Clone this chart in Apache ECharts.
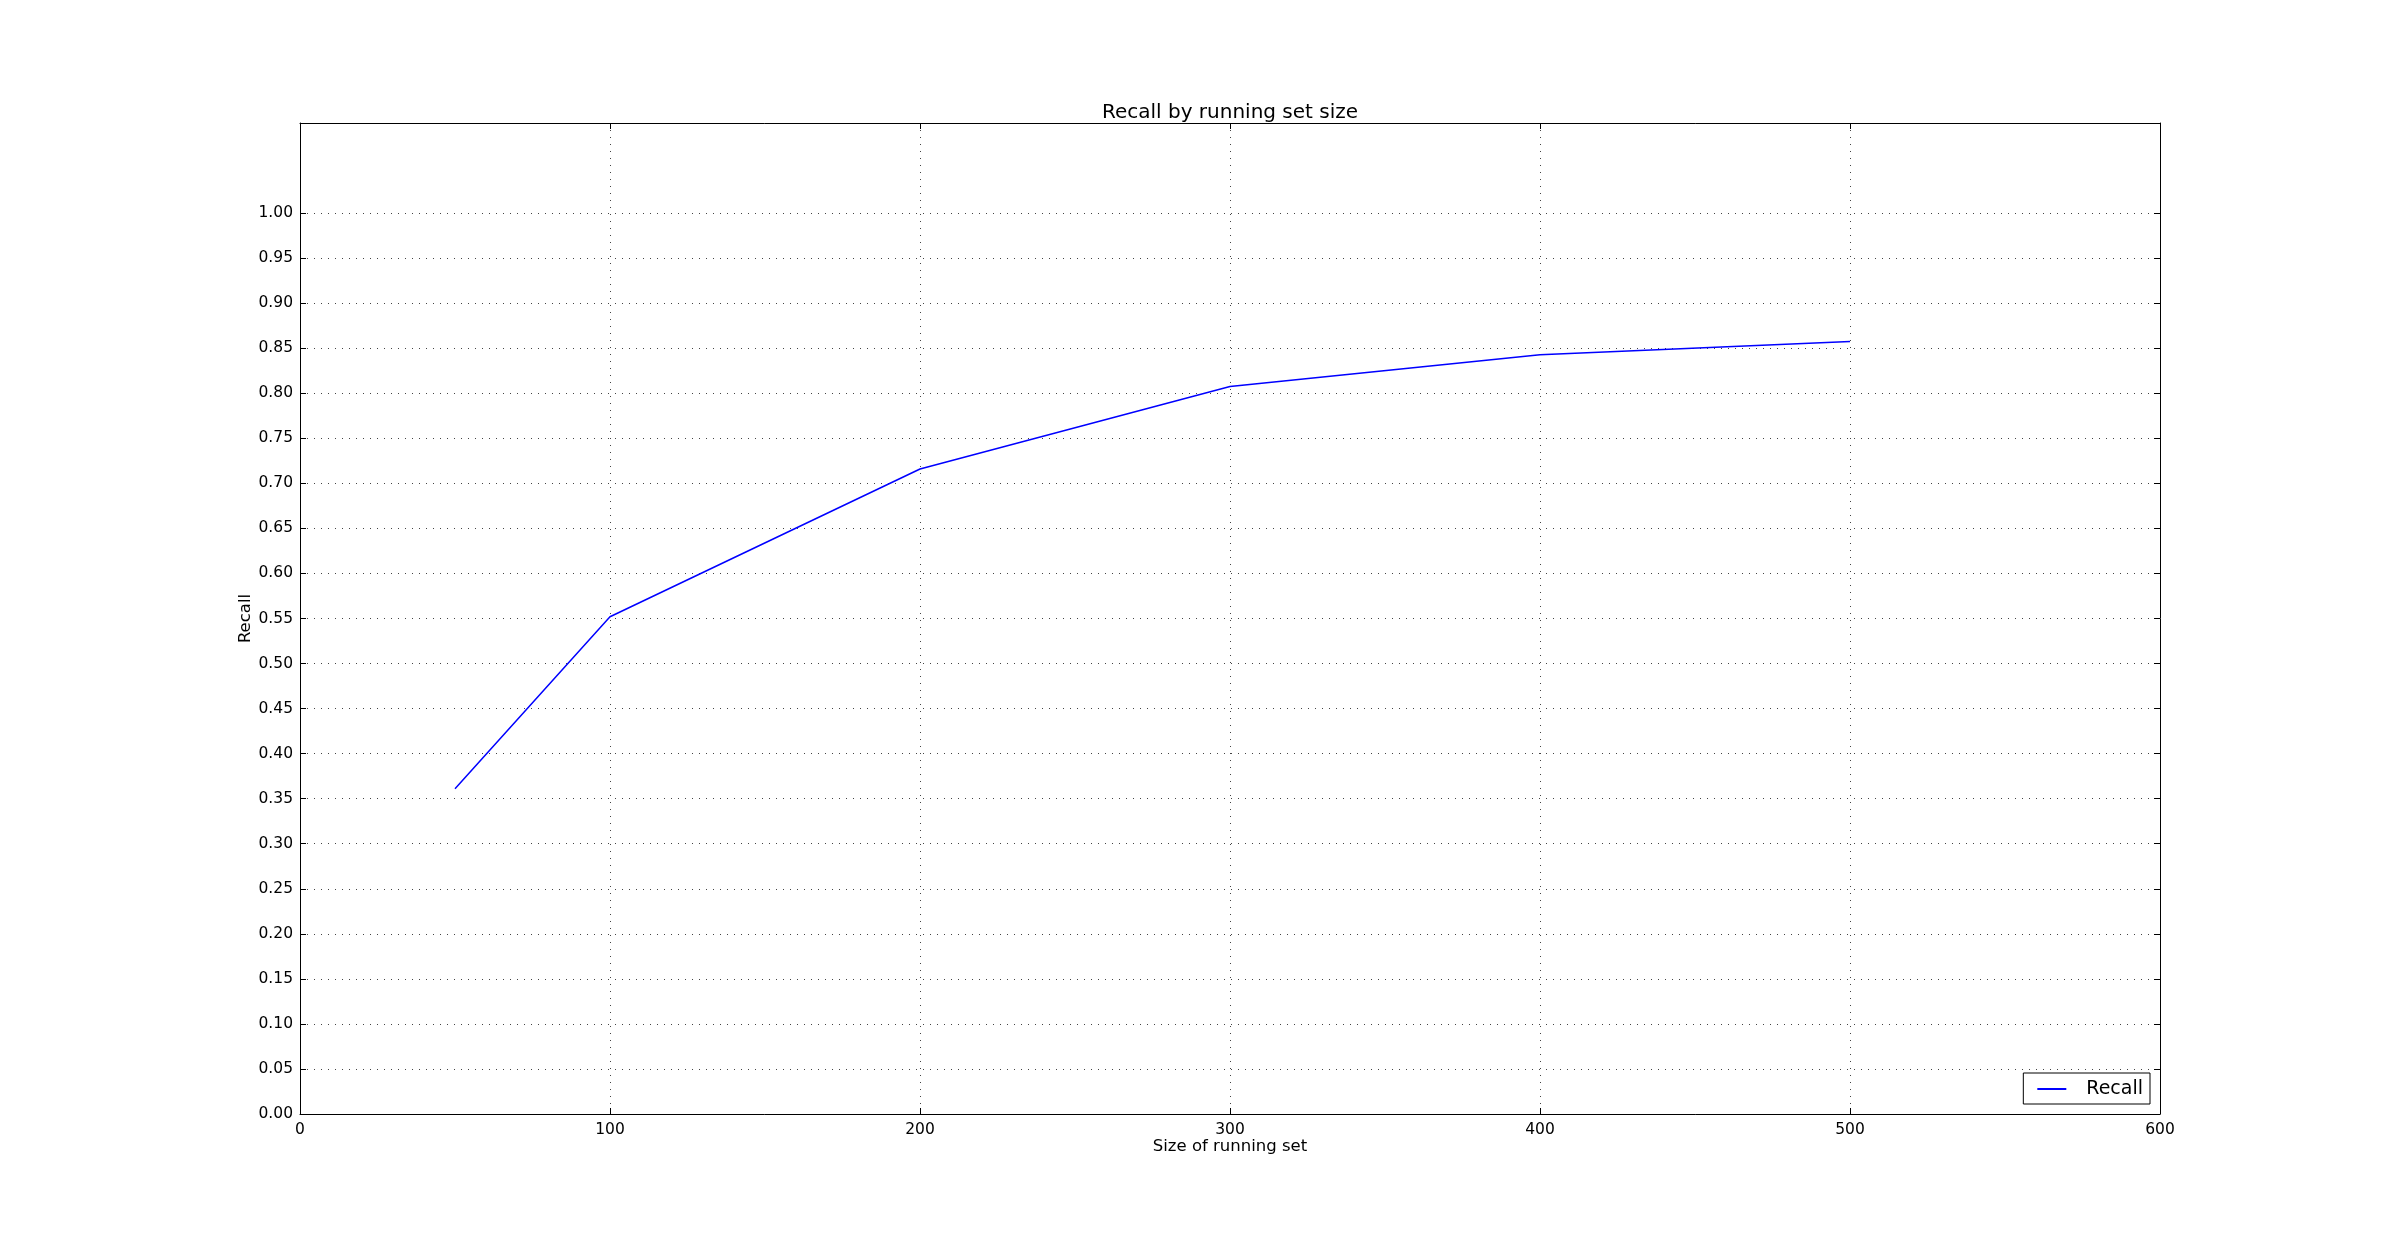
<!DOCTYPE html>
<html>
<head>
<meta charset="utf-8">
<script src="https://cdn.jsdelivr.net/npm/echarts@6/dist/echarts.min.js"></script>
<style>
html,body{margin:0;padding:0;background:#fff;}
#chart{width:2400px;height:1238px;}
</style>
</head>
<body>
<div id="chart"></div>
<script>
// Data
const runningSetSizes = [50, 100, 200, 300, 400, 500];
const recallValues = [0.361, 0.552, 0.716, 0.8075, 0.8427, 0.8575];
const xTickValues = [0, 100, 200, 300, 400, 500, 600];
const yTickValues = [0, 0.05, 0.10, 0.15, 0.20, 0.25, 0.30, 0.35, 0.40, 0.45, 0.50,
                     0.55, 0.60, 0.65, 0.70, 0.75, 0.80, 0.85, 0.90, 0.95, 1.00];
const titleText = 'Recall by running set size';
const xName = 'Size of running set';
const yName = 'Recall';
const seriesName = 'Recall';

const FONT = 'DejaVu Sans';
const gridLine = { show: true, lineStyle: { color: '#444', width: 1, type: [1, 6] } };
const tickStyle = { show: true, inside: true, length: 6, lineStyle: { color: '#000', width: 1 } };
const axisLine = { show: true, onZero: false, lineStyle: { color: '#000', width: 1 } };

const chart = echarts.init(document.getElementById('chart'));
chart.setOption({
  animation: false,
  backgroundColor: '#fff',
  title: {
    text: titleText,
    left: 1230,
    textAlign: 'center',
    top: 103,
    padding: 0,
    textStyle: { fontFamily: FONT, fontSize: 20, fontWeight: 'normal', color: '#000' }
  },
  legend: {
    data: [{ name: seriesName, icon: 'rect' }],
    right: 250,
    bottom: 134,
    orient: 'vertical',
    padding: [4, 7, 3, 14],
    borderColor: '#000',
    borderWidth: 1,
    borderRadius: 0,
    itemWidth: 29,
    itemHeight: 2,
    itemStyle: { color: '#0000ff' },
    textStyle: { fontFamily: FONT, fontSize: 19, color: '#000', padding: [4, 0, 0, 15], lineHeight: 20 }
  },
  grid: { left: 300, right: 240, top: 123, bottom: 124, containLabel: false },
  xAxis: [{
    type: 'value',
    position: 'bottom',
    min: xTickValues[0],
    max: xTickValues[xTickValues.length - 1],
    interval: 100,
    name: xName,
    nameLocation: 'middle',
    nameGap: 24,
    nameMoveOverlap: false,
    nameTextStyle: { fontFamily: FONT, fontSize: 16.5, color: '#000' },
    axisLine: axisLine,
    axisTick: tickStyle,
    splitLine: gridLine,
    axisLabel: { fontFamily: FONT, fontSize: 15.5, color: '#000', margin: 8 }
  }, {
    type: 'value',
    position: 'top',
    min: xTickValues[0],
    max: xTickValues[xTickValues.length - 1],
    interval: 100,
    axisLine: axisLine,
    axisTick: tickStyle,
    splitLine: { show: false },
    axisLabel: { show: false }
  }],
  yAxis: [{
    type: 'value',
    position: 'left',
    min: 0,
    max: 1.1,
    interval: 0.05,
    name: yName,
    nameLocation: 'middle',
    nameGap: 46,
    nameMoveOverlap: false,
    nameTextStyle: { fontFamily: FONT, fontSize: 16.5, color: '#000' },
    axisLine: axisLine,
    axisTick: Object.assign({}, tickStyle, { customValues: yTickValues }),
    splitLine: gridLine,
    axisLabel: {
      fontFamily: FONT, fontSize: 15.5, color: '#000', margin: 7,
      customValues: yTickValues,
      formatter: v => v.toFixed(2)
    }
  }, {
    type: 'value',
    position: 'right',
    min: 0,
    max: 1.1,
    interval: 0.05,
    axisLine: axisLine,
    axisTick: Object.assign({}, tickStyle, { customValues: yTickValues }),
    splitLine: { show: false },
    axisLabel: { show: false }
  }],
  series: [{
    name: seriesName,
    type: 'line',
    xAxisIndex: 0,
    yAxisIndex: 0,
    data: runningSetSizes.map((x, i) => [x, recallValues[i]]),
    symbol: 'none',
    lineStyle: { color: '#0000ff', width: 1.5 },
    itemStyle: { color: '#0000ff' }
  }]
});
</script>
</body>
</html>
